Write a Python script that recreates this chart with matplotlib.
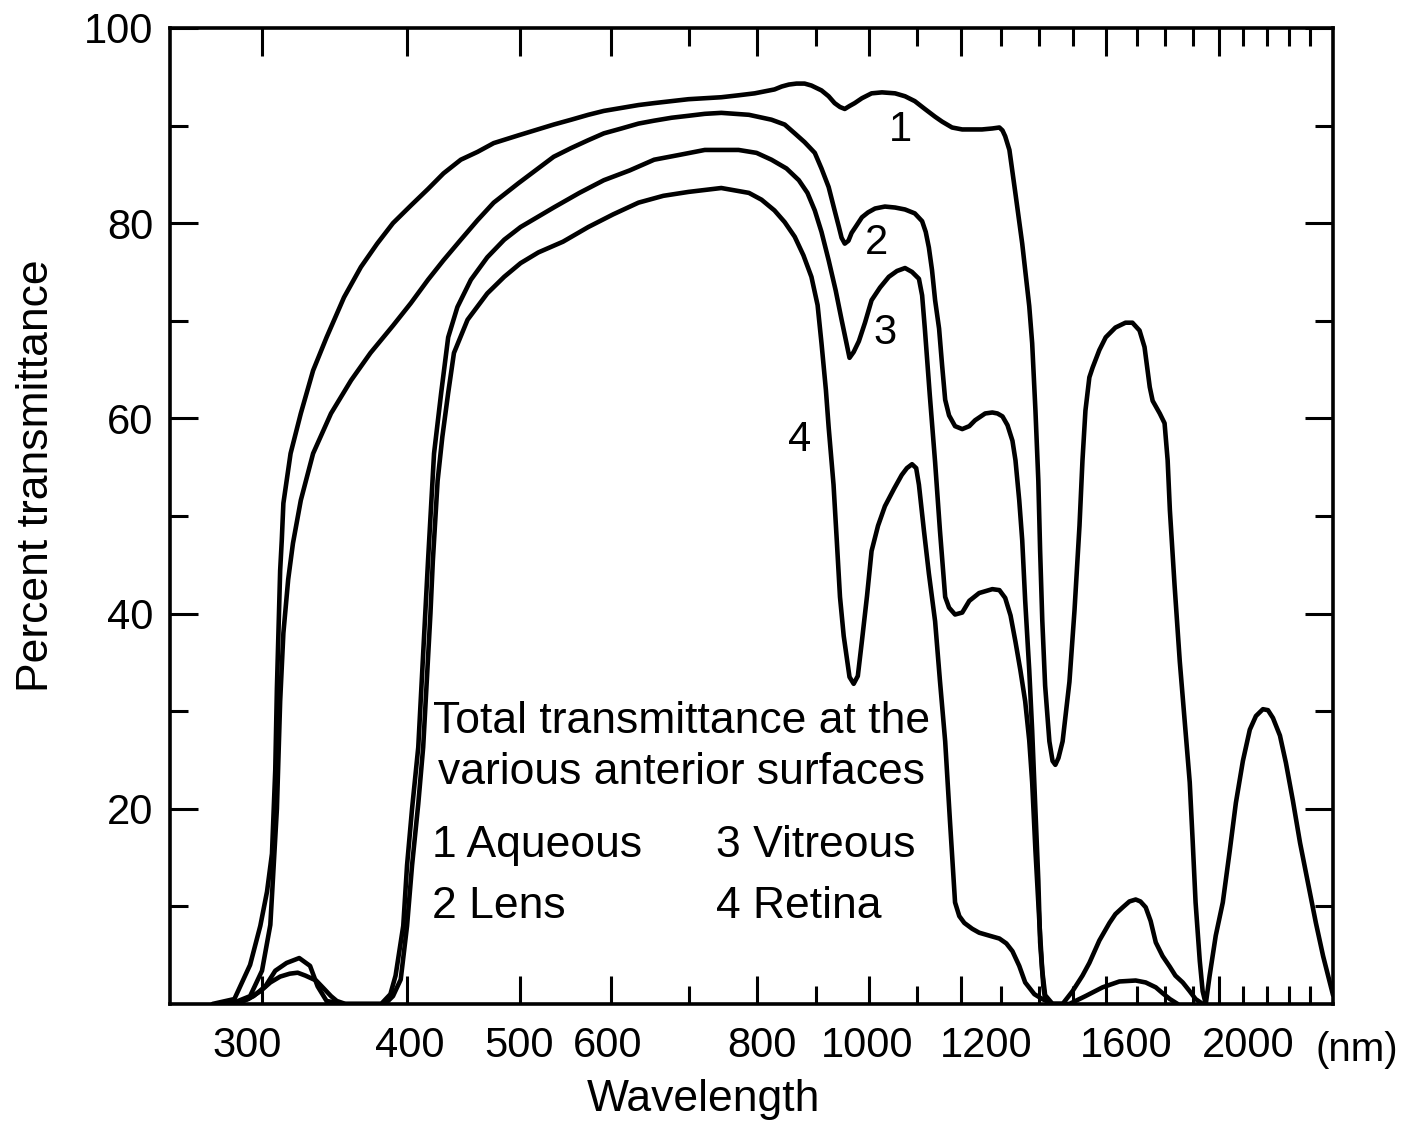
import numpy as np
import matplotlib
matplotlib.use('Agg')
import matplotlib.pyplot as plt
import matplotlib.transforms as mtransforms
from matplotlib.ticker import FixedLocator, NullFormatter

plt.rcParams['font.family'] = ['Liberation Sans', 'DejaVu Sans']

# wavelength (nm) and percent transmittance
# 1 Aqueous
wl_aqueous = [272, 284, 293, 299, 303, 306, 308, 309, 311, 312, 313, 317.5, 324, 332, 341, 353, 365, 377, 389,
              403, 417, 430, 445, 460, 475, 499, 535, 554, 573, 591, 612, 633, 653, 676, 699, 722, 746, 772,
              797, 813, 829, 841, 853, 866, 880, 892, 910, 923, 934, 944, 953, 962, 972, 986, 1005, 1026,
              1053, 1074, 1095, 1117, 1140, 1156, 1179, 1203, 1251, 1277, 1295, 1303, 1310, 1321, 1337,
              1355, 1374, 1382, 1391, 1399, 1404, 1410, 1418, 1430, 1439, 1447, 1456, 1468, 1488, 1503,
              1518, 1527, 1536, 1548, 1558, 1579, 1599, 1630, 1663, 1686, 1710, 1727, 1745, 1755, 1780,
              1797, 1808, 1816, 1833, 1852, 1870, 1889, 1900, 1911, 1927, 1938, 1950, 1965, 1989, 2017,
              2045, 2070, 2099, 2128, 2154, 2184, 2206, 2228, 2259, 2286, 2318, 2351, 2388, 2426, 2461, 2510]
t_aqueous = [0, 0.5, 4.0, 8.0, 11.5, 15.4, 24.0, 32.3, 44.4, 47.5, 51.3, 56.4, 60.5, 64.9, 68.3, 72.4, 75.5, 77.9, 80.0,
             81.8, 83.5, 85.1, 86.5, 87.3, 88.2, 89.0, 90.1, 90.6, 91.1, 91.5, 91.8, 92.1, 92.3, 92.5, 92.7, 92.8, 92.9, 93.1,
             93.3, 93.5, 93.7, 94.0, 94.2, 94.3, 94.3, 94.1, 93.6, 93.0, 92.3, 91.9, 91.7, 92.0, 92.3, 92.8, 93.3, 93.4,
             93.3, 93.0, 92.5, 91.7, 90.9, 90.4, 89.8, 89.6, 89.6, 89.7, 89.8, 89.5, 88.9, 87.5, 83.0,
             77.9, 71.5, 67.7, 60.8, 53.6, 46.4, 39.3, 32.6, 26.9, 24.9, 24.5, 25.2, 26.9, 33.0, 40.3,
             49.0, 55.7, 60.8, 64.2, 65.2, 67.0, 68.3, 69.3, 69.8, 69.8, 69.0, 67.3, 63.2, 61.8, 60.5,
             59.5, 55.7, 50.6, 42.9, 35.1, 29.0, 22.7, 16.7, 10.4, 4.4, 1.3, 0, 2.9, 7.0, 10.4,
             15.7, 20.6, 24.9, 28.1, 29.5, 30.2, 30.1, 29.3, 27.5, 24.7, 20.8, 16.5, 12.4, 8.3, 4.9, 0.9]

# 2 Lens
wl_lens = [282, 293, 300, 305, 309, 311, 313, 316, 319, 324, 332, 344, 358, 372, 389, 403, 417, 430, 445, 460,
           475, 499, 535, 554, 573, 591, 612, 633, 653, 676, 699, 722, 746, 788, 824, 846, 863, 880, 898, 910,
           923, 934, 942, 947, 953, 960, 966, 976, 986, 998, 1012, 1032, 1053, 1074, 1095, 1111, 1119, 1126,
           1133, 1140, 1149, 1156, 1163, 1172, 1186, 1203, 1220, 1234, 1259, 1277, 1290, 1303, 1316, 1329,
           1337, 1347, 1355, 1363, 1374, 1382, 1391, 1399, 1404, 1413, 1418, 1430, 1468, 1497, 1527, 1548,
           1579, 1611, 1630, 1654, 1676, 1697, 1713, 1731, 1748, 1766, 1790, 1816, 1836, 1863, 1889, 1911, 1938]
t_lens = [0, 0.8, 3.4, 8.1, 20.0, 31.0, 38.0, 43.5, 47.2, 51.6, 56.4, 60.5, 63.9, 66.7, 69.5, 71.8, 74.2, 76.2, 78.3, 80.3,
          82.1, 84.1, 86.8, 87.7, 88.5, 89.2, 89.7, 90.2, 90.5, 90.8, 91.0, 91.2, 91.3, 91.1, 90.6, 90.1, 89.2, 88.3, 87.2, 85.6,
          83.7, 81.3, 79.6, 78.5, 77.9, 78.2, 79.0, 79.8, 80.6, 81.1, 81.5, 81.7, 81.6, 81.4, 81.0, 80.2, 79.1, 77.5,
          75.2, 72.1, 69.2, 65.4, 61.9, 60.3, 59.2, 58.9, 59.2, 59.8, 60.5, 60.6, 60.5, 60.2, 59.3, 57.7,
          55.7, 51.6, 47.5, 41.3, 34.2, 28.0, 19.8, 12.6, 6.3, 1.8, 0.5, 0, 0, 1.3, 2.9, 4.2,
          6.5, 8.3, 9.2, 9.9, 10.5, 10.7, 10.5, 9.9, 8.5, 6.3, 4.9, 3.8, 2.9, 2.2, 1.3, 0.5, 0]

# 3 Vitreous
wl_vitreous = [279, 289, 295, 302, 308, 315, 323, 330, 335, 341, 353, 380, 387, 391, 397, 400, 404, 409, 417, 422,
               428, 434, 442, 454, 469, 485, 501, 535, 563, 591, 622, 653, 687, 722, 772, 800, 824, 849, 870, 885,
               898, 910, 923, 936, 947, 957, 962, 970, 980, 992, 1005, 1022, 1040, 1057, 1074, 1089, 1104, 1111,
               1117, 1128, 1140, 1151, 1163, 1172, 1186, 1203, 1220, 1244, 1277, 1295, 1310, 1324, 1337, 1350,
               1363, 1374, 1382, 1391, 1402, 1410, 1418, 1439, 1488, 1536, 1589, 1643, 1697, 1731, 1766, 1790,
               1816, 1844]
t_vitreous = [0, 0.3, 0.8, 1.8, 3.4, 4.2, 4.7, 3.9, 1.8, 0.3, 0, 0, 1.0, 2.9, 8.0, 14.2, 20.0, 26.3, 45.4, 56.4,
              62.6, 68.3, 71.4, 74.2, 76.5, 78.3, 79.6, 81.6, 83.1, 84.4, 85.4, 86.5, 87.0, 87.5, 87.5, 87.2, 86.5, 85.6, 84.4, 83.1,
              81.3, 79.1, 76.2, 73.1, 70.1, 67.5, 66.2, 66.8, 67.9, 69.8, 72.1, 73.4, 74.5, 75.1, 75.4, 75.0, 74.3, 72.6,
              69.2, 62.4, 55.5, 48.5, 41.7, 40.6, 39.9, 40.1, 41.3, 42.1, 42.5, 42.4, 41.6, 39.8, 37.1, 34.2,
              31.0, 27.0, 22.7, 15.7, 8.3, 3.4, 0.9, 0, 0, 0.8, 1.7, 2.3, 2.4, 2.2, 1.7, 1.1,
              0.5, 0]

# 4 Retina
wl_retina = [284, 292, 299, 305, 311, 317, 322, 327, 334, 339, 344, 348, 354, 383, 389, 395, 400, 404, 409, 413,
             419, 421, 425, 429, 434, 439, 451, 469, 485, 501, 519, 545, 573, 602, 633, 665, 699, 746, 788, 808,
             829, 846, 863, 878, 892, 903, 910, 918, 923, 932, 938, 944, 951, 957, 962, 970, 978, 986, 996,
             1005, 1018, 1032, 1051, 1067, 1078, 1089, 1098, 1104, 1115, 1126, 1140, 1151, 1163, 1174, 1186,
             1196, 1208, 1227, 1244, 1269, 1295, 1313, 1329, 1347, 1363, 1388, 1410, 1439, 1470]
t_retina = [0, 0.5, 1.3, 2.2, 2.8, 3.1, 3.2, 2.9, 2.4, 1.6, 0.8, 0.3, 0, 0, 0.8, 2.5, 8.0, 14.2, 20.5, 26.3,
            40.0, 45.4, 53.6, 58.1, 62.6, 66.7, 70.1, 72.8, 74.5, 75.9, 77.0, 78.1, 79.6, 80.9, 82.1, 82.8, 83.2, 83.6, 83.1, 82.4,
            81.3, 80.1, 78.6, 76.7, 74.5, 71.6, 67.7, 62.9, 59.1, 53.2, 47.5, 41.7, 37.7, 35.4, 33.5, 32.8, 33.6, 37.2, 41.8,
            46.4, 49.0, 51.0, 52.8, 54.2, 54.9, 55.3, 54.9, 53.2, 48.5, 44.1, 39.2, 33.1, 26.9, 18.8, 10.4,
            9.0, 8.3, 7.7, 7.3, 7.0, 6.7, 6.2, 5.4, 3.9, 2.2, 1.0, 0.5, 0, 0]

major_wl = [300, 400, 500, 600, 800, 1000, 1200, 1600, 2000]
minor_wl = [700, 900, 1100, 1300, 1400, 1500, 1700, 1800, 1900, 2100, 2200, 2300, 2400]
# the printed labels sit a little off their ticks (pixels)
label_shift = [-15, 3, -1, -4, 5, -2, 25, 20, 30]

fig = plt.figure(figsize=(14.09, 11.27), dpi=100)
ax = fig.add_axes([0.1207, 0.1092, 0.8254, 0.8660])

for wl, t in [(wl_aqueous, t_aqueous), (wl_lens, t_lens), (wl_vitreous, t_vitreous), (wl_retina, t_retina)]:
  ax.plot(wl, t, color='black', lw=3.3, solid_joinstyle='round', solid_capstyle='round')

ax.set_xscale('log')
ax.set_xlim(250, 2510)
ax.set_ylim(0, 100)

ax.xaxis.set_major_locator(FixedLocator(major_wl))
ax.xaxis.set_minor_locator(FixedLocator(minor_wl))
ax.xaxis.set_minor_formatter(NullFormatter())
ax.set_xticklabels([str(v) for v in major_wl])
ax.set_yticks([20, 40, 60, 80, 100])
ax.yaxis.set_minor_locator(FixedLocator([10, 30, 50, 70, 90]))

ax.tick_params(which='both', direction='in', top=True, right=True, width=2.2, labelsize=30)
ax.tick_params(which='major', length=20)
ax.tick_params(which='minor', length=13)
ax.tick_params(axis='x', pad=16)
ax.tick_params(axis='y', pad=12)
for sp in ax.spines.values():
  sp.set_linewidth(2.6)

for lab, dx in zip(ax.get_xticklabels(), label_shift):
  lab.set_transform(lab.get_transform() + mtransforms.ScaledTranslation(dx / 100, 0, fig.dpi_scale_trans))

# curve numbers
ax.text(0.6277, 0.8955, '1', transform=ax.transAxes, fontsize=30, ha='center', va='center')
ax.text(0.6071, 0.7797, '2', transform=ax.transAxes, fontsize=30, ha='center', va='center')
ax.text(0.6148, 0.6875, '3', transform=ax.transAxes, fontsize=30, ha='center', va='center')
ax.text(0.5417, 0.5779, '4', transform=ax.transAxes, fontsize=30, ha='center', va='center')

# legend block
ax.text(0.4394, 0.2889, 'Total transmittance at the', transform=ax.transAxes, fontsize=32, ha='center', va='center')
ax.text(0.4394, 0.2367, 'various anterior surfaces', transform=ax.transAxes, fontsize=32, ha='center', va='center')
ax.text(0.2253, 0.1619, '1 Aqueous', transform=ax.transAxes, fontsize=32, ha='left', va='center')
ax.text(0.4695, 0.1619, '3 Vitreous', transform=ax.transAxes, fontsize=32, ha='left', va='center')
ax.text(0.2253, 0.0994, '2 Lens', transform=ax.transAxes, fontsize=32, ha='left', va='center')
ax.text(0.4695, 0.0994, '4 Retina', transform=ax.transAxes, fontsize=32, ha='left', va='center')

fig.text(703 / 1409, 1 - 1100 / 1127, 'Wavelength', fontsize=32, ha='center', va='center')
fig.text(1316 / 1409, 1 - 1050 / 1127, '(nm)', fontsize=29, ha='left', va='center')
fig.text(37 / 1409, 1 - 476 / 1127, 'Percent transmittance', fontsize=32, ha='center', va='center', rotation=90)

fig.savefig('out.png', dpi=100)
